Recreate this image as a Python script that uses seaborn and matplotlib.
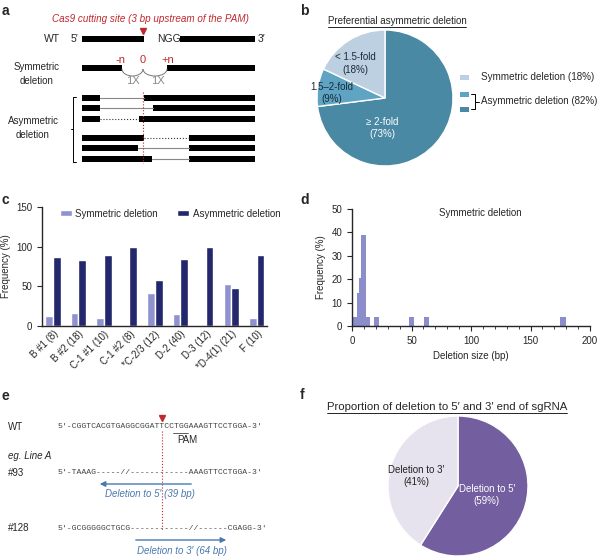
import numpy as np
import pandas as pd
import seaborn as sns
import matplotlib.pyplot as plt
from matplotlib.patches import Rectangle, Arc

# %% data
# b: preferential asymmetric deletion
fold_labels = ["\u2265 2-fold\n(73%)", "1.5\u20132-fold\n(9%)", "< 1.5-fold\n(18%)"]
fold_pct = [73, 9, 18]

# c: symmetric vs asymmetric per line
lines = ["B #1 (8)", "B #2 (18)", "C-1 #1 (10)", "C-1 #2 (8)", "*C-2/3 (12)",
         "D-2 (40)", "D-3 (12)", "*D-4(1) (21)", "F (10)"]
sym_pct = [12.5, 16.7, 10, 0, 41.7, 15, 0, 52.4, 10]
asym_pct = [87.5, 83.3, 90, 100, 58.3, 85, 100, 47.6, 90]

# d: symmetric deletion size histogram
del_size = [2.5, 5, 6.75, 9.75, 13.5, 20.75, 49.75, 62.75, 177]
del_freq = [3.9, 14, 20.5, 38.9, 3.9, 3.9, 3.9, 3.9, 3.9]
size_edges = [1, 4, 6, 7.5, 12, 15, 18.5, 23, 47.5, 52, 60.5, 65, 174.5, 179.5]

# f: direction of deletion
side_labels = ["Deletion to 5\u2032\n(59%)", "Deletion to 3\u2032\n(41%)"]
side_pct = [59, 41]

# e: sequences
seq_names = ["WT", "#93", "#128"]
seqs = ["5'-CGGTCACGTGAGGCGGATTCCTGGAAAGTTCCTGGA-3'",
        "5'-TAAAG-----//------------AAAGTTCCTGGA-3'",
        "5'-GCGGGGGCTGCG------------//------CGAGG-3'"]

# %% style
sns.set_style("ticks")
plt.rcParams['font.family'] = ['Liberation Sans', 'DejaVu Sans']
plt.rcParams['font.size'] = 7
plt.rcParams['axes.linewidth'] = 1.0

RED = "#c0282e"
BLUE = "#4a78b0"
b_colors = ["#4a89a4", "#5fa4c3", "#bcd0e2"]
c_colors = ["#8f92cf", "#23276b"]
f_colors = ["#735ea0", "#e7e3ee"]

W, H = 600, 557
fig = plt.figure(figsize=(6, 5.57), dpi=100)


def frac(x0, y0, x1, y1):
    return [x0 / W, 1 - y1 / H, (x1 - x0) / W, (y1 - y0) / H]


# %% b pie
axb = fig.add_axes(frac(317, 30, 453, 166))
axb.pie(fold_pct, colors=b_colors, startangle=90, counterclock=False)
axb.set_xlim(-1, 1)
axb.set_ylim(-1, 1)
axb.set_aspect('equal')
axb.text(-0.04, -0.44, fold_labels[0], color='white', ha='center', va='center', linespacing=1.3)
axb.text(-0.78, 0.07, fold_labels[1], color='#1a2a3a', ha='center', va='center', linespacing=1.3)
axb.text(-0.44, 0.51, fold_labels[2], color='#1a2a3a', ha='center', va='center', linespacing=1.3)

# %% c bars
df_c = pd.DataFrame({
    "line": lines * 2,
    "type": ["Symmetric deletion"] * len(lines) + ["Asymmetric deletion"] * len(lines),
    "pct": sym_pct + asym_pct,
})
axc = fig.add_axes(frac(42, 207, 267, 326))
sns.barplot(df_c, x="line", y="pct", hue="type", palette=c_colors, width=0.6,
            saturation=1, ax=axc)
axc.set_xlim(-0.43, 8.4)
axc.set_ylim(0, 150)
axc.set_yticks([0, 50, 100, 150])
axc.set_xlabel("")
axc.set_ylabel("Frequency (%)")
axc.tick_params(axis='x', length=0, pad=2)
axc.set_xticks(range(len(lines)))
axc.set_xticklabels(lines, rotation=45, ha='right', rotation_mode='anchor')
sns.despine(ax=axc)
axc.legend(ncol=2, loc='upper center', bbox_to_anchor=(0.57, 1.06), frameon=False,
           handlelength=1.2, handleheight=0.6, columnspacing=2.0, handletextpad=0.4)

# %% d histogram
axd = fig.add_axes(frac(352, 209, 590, 326))
sns.histplot(x=del_size, weights=del_freq, bins=size_edges, color="#8b8ecb",
             alpha=1, linewidth=0, ax=axd)
axd.set_xlim(0, 200)
axd.set_ylim(0, 50)
axd.set_xticks([0, 50, 100, 150, 200])
axd.set_xticks(np.arange(0, 201, 10), minor=True)
axd.set_yticks(np.arange(0, 51, 10))
axd.tick_params(which='minor', length=2)
axd.set_xlabel("Deletion size (bp)")
axd.set_ylabel("Frequency (%)")
axd.text(0.54, 0.97, "Symmetric deletion", transform=axd.transAxes, ha='center', va='center')
sns.despine(ax=axd)

# %% f pie
axf = fig.add_axes(frac(388, 416, 528, 556))
axf.pie(side_pct, colors=f_colors, startangle=90, counterclock=False)
axf.set_xlim(-1, 1)
axf.set_ylim(-1, 1)
axf.set_aspect('equal')
axf.text(0.41, -0.13, side_labels[0], color='white', ha='center', va='center', linespacing=1.3)
axf.text(-0.6, 0.14, side_labels[1], color='#222222', ha='center', va='center', linespacing=1.3)

# %% overlay for schematics, panel letters and legend of b
ov = fig.add_axes([0, 0, 1, 1], zorder=10)
ov.set_xlim(0, W)
ov.set_ylim(H, 0)
ov.axis('off')
ov.patch.set_alpha(0)

for lab, x, y in [("a", 2, 11), ("b", 300, 11), ("c", 2, 200), ("d", 300, 200),
                  ("e", 2, 396), ("f", 300, 395)]:
    ov.text(x, y, lab, fontsize=10, fontweight='bold', ha='left', va='center')


def bar(x0, x1, y):
    ov.add_patch(Rectangle((x0, y - 3), x1 - x0, 6, color='black', lw=0))


# panel a
ov.text(150, 19, "Cas9 cutting site (3 bp upstream of the PAM)", color=RED,
        style='italic', ha='center', va='center', fontsize=7.1)
ov.plot([143], [31], marker='v', color=RED, ms=5)
ov.text(52, 39, "WT", ha='center', va='center', fontsize=7.5)
ov.text(74, 39, "5\u2032", ha='center', va='center', fontsize=7.5)
bar(82, 144, 39)
ov.text(157, 39, "NGG", ha='left', va='center', fontsize=7.5)
bar(180, 255, 39)
ov.text(262, 39, "3\u2032", ha='center', va='center', fontsize=7.5)

ov.text(37, 74, "Symmetric\ndeletion", ha='center', va='center', linespacing=1.5)
bar(82, 122, 68)
bar(167, 255, 68)
ov.text(121, 60, "-n", color=RED, ha='center', va='center', fontsize=8)
ov.text(143, 60, "0", color=RED, ha='center', va='center', fontsize=8)
ov.text(168, 60, "+n", color=RED, ha='center', va='center', fontsize=8)
ov.add_patch(Arc((132.5, 69), 21, 14, theta1=0, theta2=180, color='#777777', lw=0.7))
ov.add_patch(Arc((155, 69), 24, 14, theta1=0, theta2=180, color='#777777', lw=0.7))
ov.text(133, 81, "1X", color='#888888', ha='center', va='center', fontsize=8)
ov.text(158, 81, "1X", color='#888888', ha='center', va='center', fontsize=8)

ov.text(33, 128, "Asymmetric\ndeletion", ha='center', va='center', linespacing=1.5)
ov.plot([76, 73, 73, 76], [97, 97, 162, 162], color='black', lw=0.7)
ov.plot([73, 71], [129, 129], color='black', lw=0.7)
rows = [(98, [(82, 100), (144, 255)], '-'), (108, [(82, 100), (153, 255)], '-'),
        (119, [(82, 100), (139, 255)], ':'), (138, [(82, 144), (189, 255)], ':'),
        (148, [(82, 138), (189, 255)], '-'), (159, [(82, 152), (189, 255)], '-')]
for y, segs, ls in rows:
    for x0, x1 in segs:
        bar(x0, x1, y)
    ov.plot([segs[0][1], segs[1][0]], [y, y], ls=ls,
            color='#888888' if ls == '-' else '#333333', lw=0.8)
ov.plot([143, 143], [92, 163], color=RED, ls=':', lw=0.8)

# legend of b
for y, c in zip([77, 94, 109], b_colors[::-1]):
    ov.add_patch(Rectangle((460, y - 2.5), 9, 5, color=c, lw=0))
ov.text(481, 77, "Symmetric deletion (18%)", ha='left', va='center', fontsize=7.1)
ov.plot([471, 475, 475, 471], [94, 94, 109, 109], color='black', lw=0.7)
ov.plot([475, 479], [101.5, 101.5], color='black', lw=0.7)
ov.text(481, 101.5, "Asymmetric deletion (82%)", ha='left', va='center', fontsize=7.0)
tb = ov.text(397, 21, "Preferential asymmetric deletion", ha='center', va='center', fontsize=7)

# panel e
ov.plot([162], [418], marker='v', color=RED, ms=5)
for name, s, y in zip(seq_names, seqs, [427, 473, 528]):
    ov.text(8, y, name, ha='left', va='center')
    ov.text(57, y, s, ha='left', va='center', fontsize=5.9, color='#444444',
            family=['Liberation Mono', 'DejaVu Sans Mono'])
ov.plot([162, 162], [431, 531], color=RED, ls=':', lw=0.8)
ov.plot([173, 188], [433, 433], color='#444444', lw=0.6)
ov.text(187, 440, "PAM", ha='center', va='center')
ov.text(8, 456, "eg. Line A", style='italic', ha='left', va='center')
ov.annotate("", xy=(97, 484), xytext=(194, 484),
            arrowprops=dict(arrowstyle='-|>', color=BLUE, lw=1, mutation_scale=8))
ov.text(150, 494, "Deletion to 5\u2032 (39 bp)", color=BLUE, style='italic', ha='center', va='center')
ov.annotate("", xy=(229, 540), xytext=(133, 540),
            arrowprops=dict(arrowstyle='-|>', color=BLUE, lw=1, mutation_scale=8))
ov.text(182, 551, "Deletion to 3\u2032 (64 bp)", color=BLUE, style='italic', ha='center', va='center')

tf = ov.text(447, 407, "Proportion of deletion to 5\u2032 and 3\u2032 end of sgRNA",
             ha='center', va='center', fontsize=8.2)

# underline the two pie titles
fig.canvas.draw()
inv = ov.transData.inverted()
for t in (tb, tf):
    bb = t.get_window_extent()
    (x0, y0), (x1, y1) = inv.transform([[bb.x0, bb.y0], [bb.x1, bb.y1]])
    ov.plot([x0, x1], [y0 + 0.5, y0 + 0.5], color='black', lw=0.6)

fig.savefig("out.png", dpi=100)
